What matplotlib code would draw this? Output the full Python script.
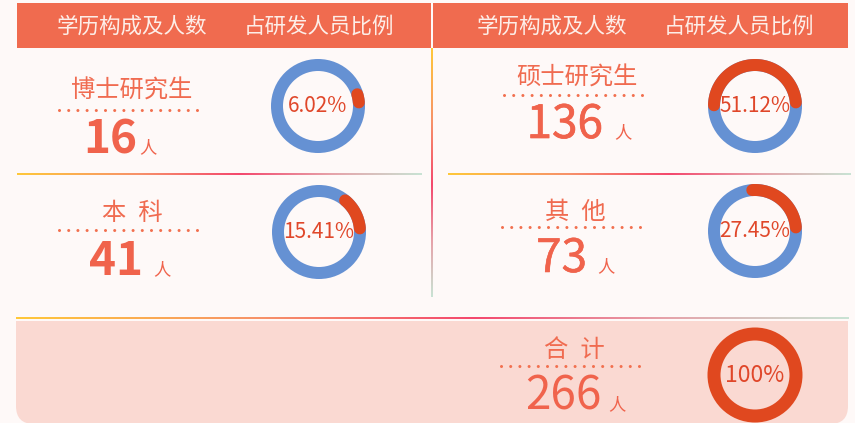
import numpy as np
import matplotlib
matplotlib.use("Agg")
import matplotlib.pyplot as plt
import matplotlib.patheffects as pe
from matplotlib.patches import Rectangle, Circle, FancyBboxPatch
from matplotlib.colors import LinearSegmentedColormap

plt.rcParams['font.family'] = ['Noto Sans CJK SC', 'DejaVu Sans']

# 数据
header_left = '学历构成及人数'
header_right = '占研发人员比例'
categories = ['博士研究生', '本科', '硕士研究生', '其他']
counts = [16, 41, 136, 73]
percents = [6.02, 15.41, 51.12, 27.45]
total_label = '合计'
total_count = 266
total_percent = 100
unit = '人'

# 每个格子的位置 (像素): 标签x, 标签y, 虚线y, 数字右边x, 基线y, "人"左边x, 圆环中心, 数字加粗
cells = [
    dict(lx=132, ly=91, dy=110, nx=137, by=153, ux=139, cx=318, cy=106, w='bold', s=0),
    dict(lx=132, ly=213, dy=230, nx=143, by=275, ux=153, cx=319, cy=232, w='bold', s=0),
    dict(lx=577, ly=78, dy=95, nx=603, by=138, ux=614, cx=755, cy=106, w='normal', s=0.5),
    dict(lx=575, ly=212, dy=227, nx=587, by=272, ux=597, cx=755, cy=231, w='normal', s=0.4),
]
total_cell = dict(lx=574, ly=350, dy=366, nx=602, by=410, ux=608, cx=755, cy=375, w='normal', s=0)

HEAD = '#F06B4F'
LABEL = '#F06B50'
NUM = '#F0634C'
BLUE = '#6591D3'
RED = '#E0481F'
PCT = '#E0472A'

grad_cmap = LinearSegmentedColormap.from_list(
    'g', [(0, '#FFC83A'), (0.3, '#F7916A'), (0.55, '#F4496E'),
          (0.78, '#E6A3AA'), (1, '#C9E3D4')])

W, H = 855, 423
fig = plt.figure(figsize=(W / 100, H / 100), dpi=100, facecolor='#FEF9F8')
ax = fig.add_axes([0, 0, 1, 1])
ax.set_facecolor('#FEF9F8')


def grad_line(x0, x1, y0, y1, vertical=False):
    g = np.linspace(0, 1, 256)
    arr = g.reshape(-1, 1) if vertical else g.reshape(1, -1)
    ax.imshow(arr, cmap=grad_cmap, extent=[x0, x1, y1, y0], aspect='auto',
              interpolation='bilinear', zorder=3)


def dotted(x0, x1, y):
    ax.plot([x0, x1], [y, y], color='#F2704F', lw=2.2, ls=(0, (0.01, 3.0)),
            dash_capstyle='round', zorder=4)


def ring(cx, cy, pct, fs=15):
    r = 41
    lw = 12 * 0.72
    if pct >= 100:
        ax.add_patch(Circle((cx, cy), r, fill=False, lw=13 * 0.72, ec=RED, zorder=4))
        label = f'{pct}%'
    else:
        ax.add_patch(Circle((cx, cy), r, fill=False, lw=lw, ec=BLUE, zorder=4))
        cap = np.degrees(6 / r) * 0.6
        a0 = 0 + cap
        a1 = max(pct * 3.6 - cap, a0 + 0.5)
        t = np.radians(np.linspace(a0, a1, 100))
        ax.plot(cx + r * np.cos(t), cy - r * np.sin(t), color=RED, lw=lw,
                solid_capstyle='round', zorder=5)
        label = f'{pct:.2f}%'
    ax.text(cx, cy, label, color=PCT, fontsize=fs, ha='center', va='center',
            zorder=6)


def cell(c, name, count, pct, pct_fs=15):
    if len(name) == 2:
        name = name[0] + '\u2002' + name[1]
    ax.text(c['lx'], c['ly'], name, color=LABEL, fontsize=17.5, ha='center',
            va='center', zorder=6)
    dotted(c['lx'] - 73, c['lx'] + 70, c['dy'])
    effects = [pe.withStroke(linewidth=c['s'], foreground=NUM)] if c['s'] else []
    ax.text(c['nx'], c['by'], str(count), color=NUM, fontsize=33,
            fontweight=c['w'], ha='right', va='baseline', zorder=6,
            path_effects=effects)
    ax.text(c['ux'], c['by'], unit, color=NUM, fontsize=12.5, ha='left',
            va='baseline', zorder=6)
    ring(c['cx'], c['cy'], pct, pct_fs)


# 表头
ax.add_patch(Rectangle((17, 3), 414, 45, color=HEAD, lw=0, zorder=2))
ax.add_patch(Rectangle((433, 3), 415, 45, color=HEAD, lw=0, zorder=2))
for x, s in [(132, header_left), (319, header_right),
             (552, header_left), (739, header_right)]:
    ax.text(x, 27, s, color='#FDEEE8', fontsize=15.5, ha='center', va='center',
            zorder=6)

# 分隔线
grad_line(17, 421, 173, 175)
grad_line(448, 850, 173, 175)
grad_line(431, 433, 48, 297, vertical=True)
grad_line(16, 848, 317, 319)

# 合计区域底色
ax.add_patch(FancyBboxPatch((16, 321), 832, 103, boxstyle='round,pad=0,rounding_size=18',
                            fc='#FAD9D2', ec='none', zorder=1))
ax.add_patch(Rectangle((16, 321), 832, 40, fc='#FAD9D2', ec='none', zorder=1))

for c, name, n, p in zip(cells, categories, counts, percents):
    cell(c, name, n, p)
cell(total_cell, total_label, total_count, total_percent, pct_fs=16.5)

ax.set_xlim(0, W)
ax.set_ylim(H, 0)
ax.axis('off')

fig.savefig('out.png', dpi=100, facecolor=fig.get_facecolor())
